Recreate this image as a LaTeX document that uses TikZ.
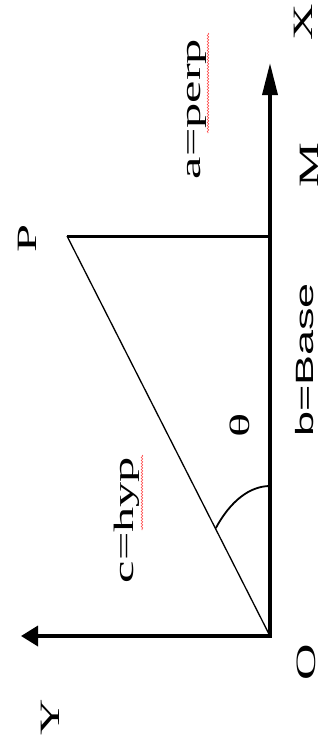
\documentclass[tikz,border=0pt]{standalone}
\usepackage{fontspec}
\setmainfont{Liberation Serif}
\newfontfamily\lblsans{Liberation Sans}
\usepackage{graphicx}
\usetikzlibrary{arrows.meta,decorations.pathmorphing}
\newcommand\lbl[1]{\scalebox{1.8}[1]{#1}}
\begin{document}
\begin{tikzpicture}[x=1pt,y=-1pt,
  lab/.style={font=\fontsize{28}{30}\selectfont, rotate=90, inner sep=0pt},
  labsans/.style={font=\lblsans\fontsize{25}{28}\selectfont, rotate=90, inner sep=0pt},
  axisline/.style={line width=3.5pt, line join=miter},
  perpline/.style={line width=3pt},
  hypline/.style={line width=1.3pt},
  arcline/.style={line width=1.8pt},
  squig/.style={draw=red!70, line width=0.6pt, decorate, decoration={snake, amplitude=0.8pt, segment length=3pt}}]
\useasboundingbox (0,0) rectangle (326,748);
\fill[white] (0,0) rectangle (326,748);
\coordinate (O) at (270,636);
\coordinate (Xt) at (270,63);
\coordinate (Yt) at (21,636);
\coordinate (P) at (67,236);
\coordinate (F) at (270,236);
\coordinate (A1) at (270,486);
\draw[axisline, arrows={Triangle[length=17pt,width=20pt]-Triangle[length=32pt,width=15pt]}] (Yt) -- (O) -- (Xt);
\draw[perpline] (P) -- (F);
\draw[hypline] (O) -- (P);
\draw[arcline] (A1) arc[start angle=270, end angle=226, x radius=78, y radius=150];
\node[lab] (lX) at (303,22) {\lbl{X}};
\node[lab] (lM) at (309,165) {\lbl{M}};
\node[lab] (lap) at (197,109) {\lbl{a=perp}};
\node[lab] (lP) at (27,238) {\lbl{P}};
\node[labsans] (lb) at (305,360) {\lbl{b=Base}};
\node[lab] (lth) at (240,425) {\lbl{θ}};
\node[lab] (lc) at (127,520) {\lbl{c=hyp}};
\node[lab] (lO) at (306,662) {\lbl{O}};
\node[lab] (lY) at (50,717) {\lbl{Y}};
\draw[squig] (208,33) -- (208,133);
\draw[squig] (142,455) -- (142,530);
\end{tikzpicture}
\end{document}
